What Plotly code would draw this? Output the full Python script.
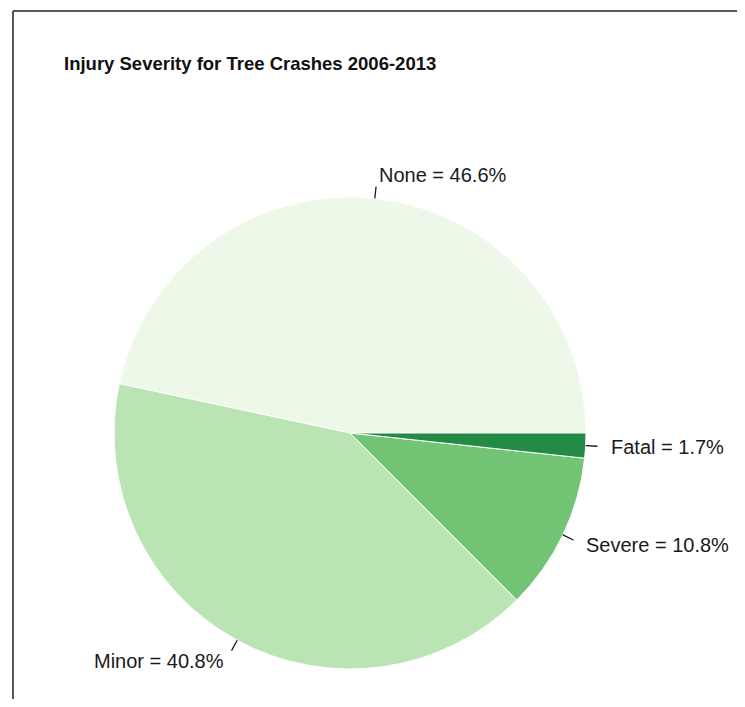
import math
import plotly.graph_objects as go

# Data
categories = ["None", "Minor", "Severe", "Fatal"]
percentages = [46.6, 40.8, 10.8, 1.7]
colors = ["#EDF8E9", "#BAE4B3", "#74C476", "#238B45"]
title_text = "Injury Severity for Tree Crashes 2006-2013"

# page has an 8px body margin: shrink figure and shift coordinates
OFF = 8
W, H = 745 - 2 * OFF, 707 - 2 * OFF


def px(x):
    return (x - OFF) / W


def py(y):
    return 1 - (y - OFF) / H


# pie geometry (target pixels in the window)
cx, cy, R = 350, 433, 236

dom_x = [px(cx - R), px(cx + R)]
dom_y = [py(cy + R), py(cy - R)]

total = sum(percentages)
# plotly's counterclockwise mode puts the first slice's clockwise edge at `rotation`;
# make the first slice start at 3 o'clock going counterclockwise (like R's pie)
rotation = 90 - 360 * percentages[0] / total

FONT = "Liberation Sans, Arial, sans-serif"

fig = go.Figure(go.Pie(
    labels=categories,
    values=percentages,
    sort=False,
    direction="counterclockwise",
    rotation=rotation,
    marker=dict(colors=colors, line=dict(color="white", width=1)),
    textinfo="none",
    hoverinfo="label+percent",
    domain=dict(x=dom_x, y=dom_y),
    showlegend=False,
))

# labels and leader lines placed at mid angles derived from the data
cum = 0.0
shapes = []
annotations = []
for name, v in zip(categories, percentages):
    mid = 2 * math.pi * (cum + v / 2) / total
    cum += v
    c, s = math.cos(mid), math.sin(mid)
    x0, y0 = cx + R * c, cy - R * s
    x1, y1 = cx + 1.05 * R * c, cy - 1.05 * R * s
    xl, yl = cx + 1.1 * R * c, cy - 1.1 * R * s
    shapes.append(dict(type="line", xref="paper", yref="paper",
                       x0=px(x0), y0=py(y0), x1=px(x1), y1=py(y1),
                       line=dict(color="#1a1a1a", width=1.3)))
    annotations.append(dict(
        x=px(xl), y=py(yl), xref="paper", yref="paper",
        text=f"{name} = {v}%", showarrow=False,
        xanchor="left" if c > 0 else "right", yanchor="middle",
        font=dict(family=FONT, size=20, color="#1a1a1a"),
    ))

annotations.append(dict(
    x=px(62), y=py(63), xref="paper", yref="paper",
    text=f"<b>{title_text}</b>", showarrow=False,
    xanchor="left", yanchor="middle",
    font=dict(family=FONT, size=18.5, color="#111111"),
))

# frame lines (top and left)
shapes.append(dict(type="line", xref="paper", yref="paper",
                   x0=px(13), y0=py(11), x1=1, y1=py(11),
                   line=dict(color="#222222", width=1.5)))
shapes.append(dict(type="line", xref="paper", yref="paper",
                   x0=px(13), y0=py(11), x1=px(13), y1=0,
                   line=dict(color="#222222", width=1.5)))

fig.update_layout(
    width=W, height=H,
    margin=dict(l=0, r=0, t=0, b=0),
    paper_bgcolor="white",
    plot_bgcolor="white",
    shapes=shapes,
    annotations=annotations,
)

fig.write_html("out.html")
